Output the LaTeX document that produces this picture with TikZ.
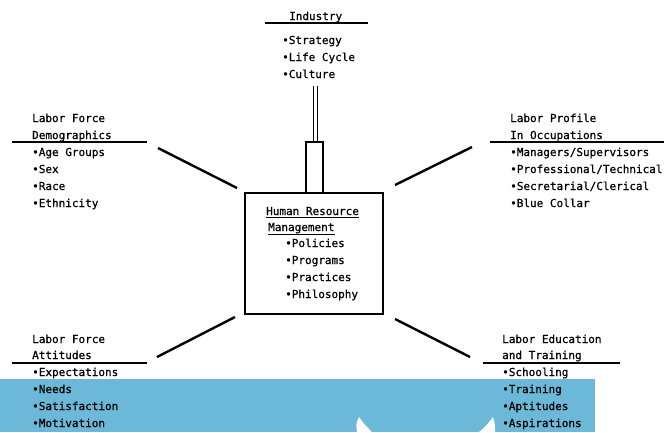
\documentclass[tikz,border=0pt]{standalone}
\usepackage{fontspec}
\newfontfamily\diagfont{DejaVu Sans Mono}[FakeBold=0.7]
\definecolor{bandblue}{HTML}{6BB8D8}
\begin{document}
\begin{tikzpicture}[x=1pt,y=-1pt,
  txt/.style={anchor=base west, inner sep=0pt, font=\diagfont\fontsize{11}{13}\selectfont},
  conn/.style={line width=2.4pt},
  rulel/.style={line width=1.1pt},
  boxl/.style={draw, line width=1.3pt, inner sep=0pt}]
\useasboundingbox (0,0) rectangle (664,432);
% scan band
\fill[bandblue] (0,379) rectangle (595,432);
\fill[white] (357,432) .. controls (356,424) .. (359,417) .. controls (364,424) .. (372,432) -- cycle;
\fill[white] (479,432) .. controls (486,426) .. (493,417) .. controls (495,424) .. (495,432) -- cycle;

% Industry
\node[txt] (ind) at (289,20) {Industry};
\draw[rulel] ([xshift=-24pt,yshift=-3pt]ind.base west) coordinate (indl) -- ([xshift=26pt,yshift=-3pt]ind.base east) coordinate (indr);
\node[txt] (ind1) at (282,44) {•Strategy};
\node[txt] (ind2) at (282,61) {•Life Cycle};
\node[txt] (ind3) at (282,78) {•Culture};

% HRM box and stem
\node[boxl, minimum width=138pt, minimum height=121pt] (hrm) at (314,253.5) {};
\node[boxl, minimum width=17pt, minimum height=51pt] (stem) at (314.5,167.5) {};
\coordinate (dtop1) at (313,86);
\coordinate (dtop2) at (317,86);
\draw[line width=0.9pt] (dtop1) -- (dtop1 |- stem.north);
\draw[line width=0.9pt] (dtop2) -- (dtop2 |- stem.north);

\node[txt] (h1) at (266,215) {Human Resource};
\draw[line width=0.8pt] ([yshift=-2pt]h1.base west) -- ([yshift=-2pt]h1.base east);
\node[txt] (h2) at (268,231) {Management};
\draw[line width=0.8pt] ([yshift=-3pt]h2.base west) -- ([yshift=-3pt]h2.base east);
\node[txt] (h3) at (285,247) {•Policies};
\node[txt] (h4) at (285,264) {•Programs};
\node[txt] (h5) at (285,281) {•Practices};
\node[txt] (h6) at (285,298) {•Philosophy};

% Labor Force Demographics
\node[txt] (d1) at (32,122) {Labor Force};
\node[txt] (d2) at (32,139) {Demographics};
\coordinate (dul) at (12,142);
\coordinate (dur) at (147,142);
\draw[rulel] (dul) -- (dur);
\node[txt] (d3) at (32,156) {•Age Groups};
\node[txt] (d4) at (32,173) {•Sex};
\node[txt] (d5) at (32,190) {•Race};
\node[txt] (d6) at (32,207) {•Ethnicity};

% Labor Profile in Occupations
\node[txt] (p1) at (510,122) {Labor Profile};
\node[txt] (p2) at (510,139) {In Occupations};
\coordinate (pul) at (490,142);
\coordinate (pur) at (664,142);
\draw[rulel] (pul) -- (pur);
\node[txt] (p3) at (510,156) {•Managers/Supervisors};
\node[txt] (p4) at (510,173) {•Professional/Technical};
\node[txt] (p5) at (510,190) {•Secretarial/Clerical};
\node[txt] (p6) at (510,207) {•Blue Collar};

% Labor Force Attitudes
\node[txt] (a1) at (32,343) {Labor Force};
\node[txt] (a2) at (32,359) {Attitudes};
\coordinate (aul) at (12,363);
\coordinate (aur) at (147,363);
\draw[rulel] (aul) -- (aur);
\node[txt] (a3) at (32,376) {•Expectations};
\node[txt] (a4) at (32,393) {•Needs};
\node[txt] (a5) at (32,410) {•Satisfaction};
\node[txt] (a6) at (32,427) {•Motivation};

% Labor Education and Training
\node[txt] (e1) at (502,343) {Labor Education};
\node[txt] (e2) at (502,359) {and Training};
\coordinate (eul) at (483,363);
\coordinate (eur) at (620,363);
\draw[rulel] (eul) -- (eur);
\node[txt] (e3) at (502,376) {•Schooling};
\node[txt] (e4) at (502,393) {•Training};
\node[txt] (e5) at (502,410) {•Aptitudes};
\node[txt] (e6) at (502,427) {•Aspirations};

% connectors
\coordinate (c1a) at (158,148); \coordinate (c1b) at (237,188);
\coordinate (c2a) at (472,147); \coordinate (c2b) at (395,185);
\coordinate (c3a) at (157,357); \coordinate (c3b) at (235,317);
\coordinate (c4a) at (470,357); \coordinate (c4b) at (395,319);
\draw[conn] (c1a) -- (c1b);
\draw[conn] (c2a) -- (c2b);
\draw[conn] (c3a) -- (c3b);
\draw[conn] (c4a) -- (c4b);
\end{tikzpicture}
\end{document}
